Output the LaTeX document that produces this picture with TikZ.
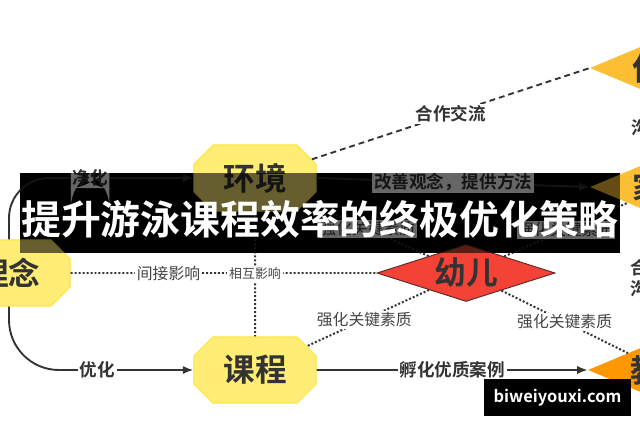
\documentclass[tikz,border=0pt]{standalone}
\usepackage{fontspec}
\setmainfont{Noto Sans CJK SC}[BoldFont={Noto Sans CJK SC Bold}]
\usepackage{xcolor}
\usepackage{tikz}
\usetikzlibrary{arrows.meta,shapes.misc,shapes.geometric}

\definecolor{linegray}{RGB}{51,51,51}
\definecolor{labelgray}{RGB}{68,68,68}
\definecolor{nodeyellow}{RGB}{255,237,117}
\definecolor{nodeedge}{RGB}{255,228,70}
\definecolor{kidred}{RGB}{244,67,54}
\definecolor{amber}{RGB}{252,190,50}
\definecolor{deeporange}{RGB}{255,152,0}

\begin{document}
\begin{tikzpicture}[x=0.03cm, y=-0.03cm,
  octbox/.style={chamfered rectangle, chamfered rectangle xsep=0.45cm, draw=nodeedge, line width=1pt, fill=nodeyellow, minimum width=3.66cm, minimum height=1.98cm, inner sep=0pt, text=linegray, font=\fontsize{27}{29}\selectfont\bfseries},
  kidbox/.style={diamond, draw=linegray!80!red, line width=0.8pt, fill=kidred, minimum width=5.34cm, minimum height=1.71cm, inner sep=0pt},
  sidebox/.style={diamond, fill=#1, minimum width=4.44cm, minimum height=1.86cm, inner sep=0pt},
  nodetext/.style={text=linegray, font=\fontsize{27}{29}\selectfont\bfseries},
  elabel/.style={fill=white, inner sep=1.5pt, text=linegray, font=\fontsize{15}{18}\selectfont\bfseries},
  tlabel/.style={fill=white, inner sep=1.5pt, text=labelgray, font=\fontsize{13.5}{15}\selectfont},
  solidarrow/.style={draw=linegray, line width=1.6pt, -{Latex[length=9pt,width=7pt]}},
  dotline/.style={draw=linegray, line width=1.7pt, dash pattern=on 1.7pt off 1.7pt},
  dashline/.style={draw=linegray, line width=1.6pt, dash pattern=on 5pt off 3.4pt}]
				\useasboundingbox (0,0) rectangle (640,426);
				\clip (0,0) rectangle (640,426);
				
				% Banner behind
				\fill[black] (20,173) rectangle (620,253);
				
				% Nodes
				\node[octbox] (linian) at (9,273) {理念};
				\node[octbox] (huanjing) at (255,178) {环境};
				\node[octbox] (kecheng) at (255,370) {课程};
				\node[kidbox, label={[nodetext]center:幼儿}] (youer) at (466,273) {};
				\node[sidebox=amber, label={[nodetext]center:伙伴}] (huoban) at (664,68) {};
				\node[sidebox=amber, label={[nodetext]center:家长}] (jiazhang) at (664,187) {};
				\node[sidebox=deeporange, label={[nodetext]center:教练}] (jiaolian) at (662,370) {};
				
				% Solid connectors
				\draw[solidarrow, rounded corners=1.2cm] (linian.north) |- (huanjing.west) node[elabel, pos=0.72] {净化};
				\draw[solidarrow, rounded corners=1.5cm] (linian.south) |- (kecheng.west) node[elabel, pos=0.74] {优化};
				\draw[solidarrow] (huanjing.east) -- (jiazhang.west) node[elabel, midway] {改善观念，提供方法};
				\draw[solidarrow] (kecheng) -- (jiaolian) node[elabel, midway] {孵化优质案例};
				\draw[solidarrow] (huoban) -- (jiazhang) node[elabel, midway, xshift=-0.45cm] {沟通};
				\draw[solidarrow] (jiazhang) -- (jiaolian) node[elabel, midway, xshift=-0.45cm, align=center] {合作\\沟通};
				
				% Dashed connector
				\draw[dashline] (huanjing) -- (huoban.west) node[elabel, midway] {合作交流};
				
				% Dotted connectors
				\draw[dotline] (linian) -- (youer) node[tlabel, pos=0.32] {间接影响};
				\draw[dotline] (huanjing) -- (kecheng) node[tlabel, midway, font=\fontsize{11}{13}\selectfont] {相互影响};
				\draw[dotline] (youer) -- (kecheng) node[tlabel, pos=0.53] {强化关键素质};
				\draw[dotline] (youer) -- (jiaolian) node[tlabel, midway] {强化关键素质};
				\draw[dotline] (youer) -- (huanjing) node[tlabel, midway] {强化关键素质};
				\draw[dotline] (youer) -- (jiazhang) node[tlabel, midway] {强化关键素质};
				
				% Banner over the diagram
				\fill[black, opacity=0.6] (20,173) rectangle (620,253);
				\node[text=white, font=\fontsize{34}{40}\selectfont\bfseries] (title) at (320,219) {提升游泳课程效率的终极优化策略};
				
				% Watermark
				\node[fill=black, minimum width=4.41cm, minimum height=1.11cm, text=white, font=\fontsize{14}{16}\selectfont\bfseries] (mark) at (557.5,397.5) {biweiyouxi.com};
			\end{tikzpicture}
\end{document}
